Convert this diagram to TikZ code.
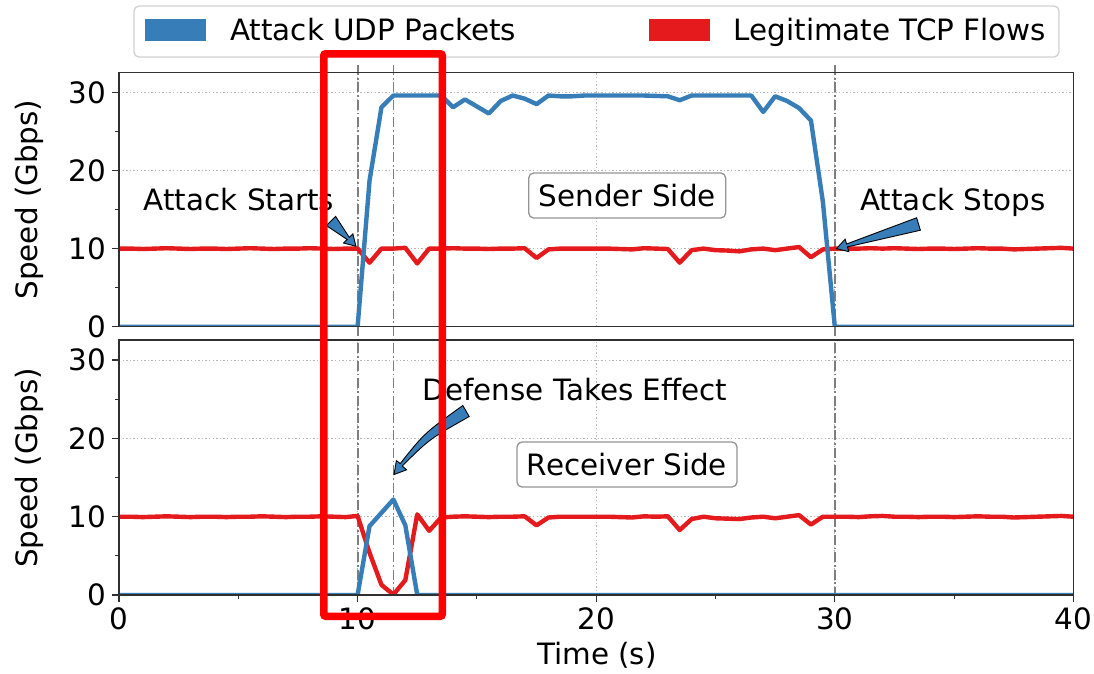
\documentclass[tikz,border=0pt]{standalone}
\usepackage{fontspec}
\setmainfont{DejaVu Sans}
\usetikzlibrary{calc}

\definecolor{atkblue}{HTML}{377EB8}
\definecolor{legred}{HTML}{E41A1C}
\definecolor{framegray}{HTML}{303030}
\definecolor{gridgray}{HTML}{B4B4B4}
\definecolor{markgray}{HTML}{7E7E7E}
\definecolor{hilite}{HTML}{FF0000}

\tikzset{
  lbl/.style={inner sep=0pt, font=\fontsize{29.4}{35}\selectfont, text=black},
  frame/.style={draw=framegray, line width=1.3pt},
  gridln/.style={draw=gridgray, line width=1pt, dash pattern=on 1.4pt off 2.2pt},
  eventln/.style={draw=markgray, line width=1.8pt, dash pattern=on 10pt off 2.8pt on 1.8pt off 2.8pt},
  udp/.style={draw=atkblue, line width=4.4pt, line join=round},
  tcp/.style={draw=legred, line width=4.4pt, line join=round},
  majortick/.style={draw=framegray, line width=1.3pt},
  minortick/.style={draw=framegray, line width=1pt},
  tagbox/.style={lbl, draw=black!42, fill=white, rounded corners=5pt, line width=1.3pt, minimum height=45pt},
  pointer/.style={fill=atkblue, draw=black, line width=0.9pt, line join=miter},
  legendframe/.style={draw=black!18, fill=white, rounded corners=5pt, line width=1.3pt},
  highlight/.style={draw=hilite, line width=7.5pt, rounded corners=2pt},
}

% straight "fancy" pointer: wide tail narrowing towards a triangular head
\newcommand{\pointerarrow}[2]{%
  \coordinate (pa-b) at ($(#2)!11pt!(#1)$);
  \coordinate (pa-t1) at ($(#1)!6.5pt!90:(#2)$);
  \coordinate (pa-t2) at ($(#1)!6.5pt!-90:(#2)$);
  \coordinate (pa-n1) at ($(pa-b)!1.5pt!90:(#2)$);
  \coordinate (pa-n2) at ($(pa-b)!1.5pt!-90:(#2)$);
  \coordinate (pa-h1) at ($(pa-b)!6.5pt!90:(#2)$);
  \coordinate (pa-h2) at ($(pa-b)!6.5pt!-90:(#2)$);
  \filldraw[pointer] (pa-t1) -- (pa-n1) -- (pa-h1) -- (#2) -- (pa-h2) -- (pa-n2) -- (pa-t2) -- cycle;
}

% grid of one panel (inside a data scope)
\newcommand{\panelgrid}{%
  \foreach \gy in {10,20,30} \draw[gridln] (0,\gy) -- (40,\gy);
  \foreach \gx in {10,20,30} \draw[gridln] (\gx,0) -- (\gx,32.55);
}
% axes frame and y ticks of one panel
\newcommand{\panelframe}[1]{%
  \draw[frame] (0,0) rectangle (40,32.55);
  \foreach \ty in {0,10,20,30} {
    \draw[majortick] (0,\ty) -- ++(-7pt,0);
    \node[lbl, anchor=base east, xshift=-13pt, yshift=-10.6pt] (#1-y\ty) at (0,\ty) {\ty};
  }
  \foreach \ty in {5,15,25} \draw[minortick] (0,\ty) -- ++(-4pt,0);
}

\begin{document}
\begin{tikzpicture}[x=1pt, y=-1pt]
\useasboundingbox (0,0) rectangle (1094,673);
\fill[white] (0,0) rectangle (1094,673);

% ---------- sender side panel ----------
\begin{scope}[shift={(119,326.7)}, x=23.86pt, y=7.81pt]
  \panelgrid
\end{scope}
% ---------- receiver side panel ----------
\begin{scope}[shift={(119,595)}, x=23.86pt, y=7.83pt]
  \panelgrid
\end{scope}

% event markers spanning both panels
\coordinate (ev10top) at (357.6,65);  \coordinate (ev10bot) at (357.6,595);
\coordinate (ev11top) at (393.4,65);  \coordinate (ev11bot) at (393.4,595);
\coordinate (ev30top) at (834.8,65);  \coordinate (ev30bot) at (834.8,595);
\draw[eventln] (ev10top) -- (ev10bot);
\draw[eventln] (ev11top) -- (ev11bot);
\draw[eventln] (ev30top) -- (ev30bot);

% ---------- sender side data ----------
\begin{scope}[shift={(119,326.7)}, x=23.86pt, y=7.81pt]
  \begin{scope}
    \clip (0,0) rectangle (40,32.55);
    \draw[tcp] plot coordinates {(0,10)(0.5,10)(1,9.95)(1.5,10)(2,10.05)(2.5,10)(3,9.95)(3.5,10)(4,10)(4.5,9.95)(5,10)(5.5,10.05)(6,10)(6.5,9.95)(7,10)(7.5,10)(8,10.05)(8.5,10)(9,9.95)(9.5,10)(10,10)(10.5,8.2)(11,10)(11.5,10)(12,10.1)(12.5,8.1)(13,10)(13.5,10)(14,10.05)(14.5,10)(15,10)(15.5,9.95)(16,10)(16.5,10)(17,10.05)(17.5,8.8)(18,9.9)(18.5,10)(19,10)(19.5,10)(20,10)(20.5,10)(21,9.95)(21.5,9.9)(22,10.05)(22.5,10)(23,9.95)(23.5,8.2)(24,9.8)(24.5,10)(25,9.8)(25.5,9.75)(26,9.65)(26.5,9.9)(27,10)(27.5,9.8)(28,10)(28.5,10.2)(29,8.9)(29.5,9.9)(30,10)(30.5,10)(31,10)(31.5,10.05)(32,10)(32.5,10.05)(33,10)(33.5,9.95)(34,10)(34.5,10)(35,9.95)(35.5,10)(36,10.05)(36.5,10)(37,10)(37.5,9.9)(38,9.95)(38.5,10)(39,10.05)(39.5,10.1)(40,10)};
    \draw[udp] plot coordinates {(0,0)(10,0)(10.5,18.7)(11,28.1)(11.5,29.6)(13.5,29.6)(14,28.1)(14.5,29.1)(15,28.2)(15.5,27.3)(16,28.9)(16.5,29.6)(17,29.2)(17.5,28.5)(18,29.6)(18.5,29.5)(19,29.5)(19.5,29.6)(22,29.6)(22.5,29.55)(23,29.5)(23.5,29.0)(24,29.6)(26.5,29.6)(27,27.5)(27.5,29.5)(28,28.9)(28.5,28.0)(29,26.4)(29.5,16.0)(30,0)(40,0)};
  \end{scope}
  \panelframe{snd}
  \coordinate (startTip) at (9.93,10.3);
  \coordinate (stopTip) at (30.07,10.0);
\end{scope}

% ---------- receiver side data ----------
\begin{scope}[shift={(119,595)}, x=23.86pt, y=7.83pt]
  \begin{scope}
    \clip (0,0) rectangle (40,32.55);
    \draw[tcp] plot coordinates {(0,10)(0.5,10)(1,9.95)(1.5,10)(2,10.05)(2.5,10)(3,9.95)(3.5,10)(4,10)(4.5,9.95)(5,10)(5.5,10)(6,10.05)(6.5,10)(7,9.95)(7.5,10)(8,10)(8.5,10.05)(9,10)(9.5,9.95)(10,10.1)(10.5,5.4)(11,1.3)(11.5,0.05)(12,1.9)(12.5,10.3)(13,8.2)(13.5,9.9)(14,10)(14.5,10.05)(15,10)(15.5,9.95)(16,10)(16.5,10)(17,10.05)(17.5,8.9)(18,9.9)(18.5,10)(19,10)(19.5,10)(20,10)(20.5,10)(21,9.95)(21.5,9.9)(22,10.05)(22.5,10)(23,10.05)(23.5,8.3)(24,9.7)(24.5,10)(25,9.8)(25.5,9.75)(26,9.7)(26.5,9.9)(27,10)(27.5,9.8)(28,10)(28.5,10.2)(29,9.0)(29.5,10)(30,10)(30.5,10)(31,9.95)(31.5,10.05)(32,10.1)(32.5,10)(33,10)(33.5,9.95)(34,10)(34.5,10)(35,9.95)(35.5,10)(36,10.05)(36.5,10)(37,10)(37.5,9.9)(38,9.95)(38.5,10)(39,10.05)(39.5,10.1)(40,10)};
    \draw[udp] plot coordinates {(0,0)(10,0)(10.5,8.8)(11.5,12.2)(12,8.9)(12.5,0)(40,0)};
  \end{scope}
  \panelframe{rcv}
  \foreach \tx in {0,10,20,30,40} {
    \draw[majortick] (\tx,0) -- ++(0,-7pt);
    \node[lbl, anchor=base, yshift=-34.5pt] (rcv-x\tx) at (\tx,0) {\tx};
  }
  \foreach \tx in {5,15,25,35} \draw[minortick] (\tx,0) -- ++(0,-4pt);
\end{scope}

% ---------- axis titles ----------
\node[lbl, rotate=90, anchor=base] (sndylabel) at (37.5,199.5) {Speed (Gbps)};
\node[lbl, rotate=90, anchor=base] (rcvylabel) at (37.5,468) {Speed (Gbps)};
\node[lbl, anchor=base] (xlabel) at (597,664.5) {Time (s)};

% ---------- panel tags ----------
\node[tagbox, minimum width=197pt] (sender) at (627.2,195.5) {Sender Side};
\node[tagbox, minimum width=220pt] (receiver) at (627,464.5) {Receiver Side};

% ---------- annotations ----------
\node[lbl, anchor=base] (startTxt) at (239,210) {Attack Starts};
\node[lbl, anchor=base] (stopTxt) at (953,210) {Attack Stops};
\node[lbl, anchor=base] (defTxt) at (575,400) {Defense Takes Effect};
\coordinate (startTail) at (331,221);
\coordinate (stopTail) at (918.5,224);
\pointerarrow{startTail}{startTip}
\pointerarrow{stopTail}{stopTip}

% curved pointer below the defense label
\coordinate (defTail) at (466,411);
\coordinate (defTip) at (394,474.5);
\filldraw[pointer] (469.2,416.5) .. controls (429.5,439) .. (402.2,466)
  -- (406.6,469.8) -- (defTip) -- (396.4,460.6) -- (400.2,463.6)
  .. controls (424.5,433) .. (462.8,405.5) -- cycle;

% ---------- legend ----------
\draw[legendframe] (134,6) rectangle (1059,57);
\fill[atkblue] (145,19) rectangle (206,41);
\node[lbl, anchor=base west] (legUDP) at (230,40) {Attack UDP Packets};
\fill[legred] (648.5,19) rectangle (709.6,41);
\node[lbl, anchor=base west] (legTCP) at (733.6,40) {Legitimate TCP Flows};

% ---------- highlighted window ----------
\draw[highlight] (323.75,53.75) rectangle (442.25,616.25);
\end{tikzpicture}
\end{document}
